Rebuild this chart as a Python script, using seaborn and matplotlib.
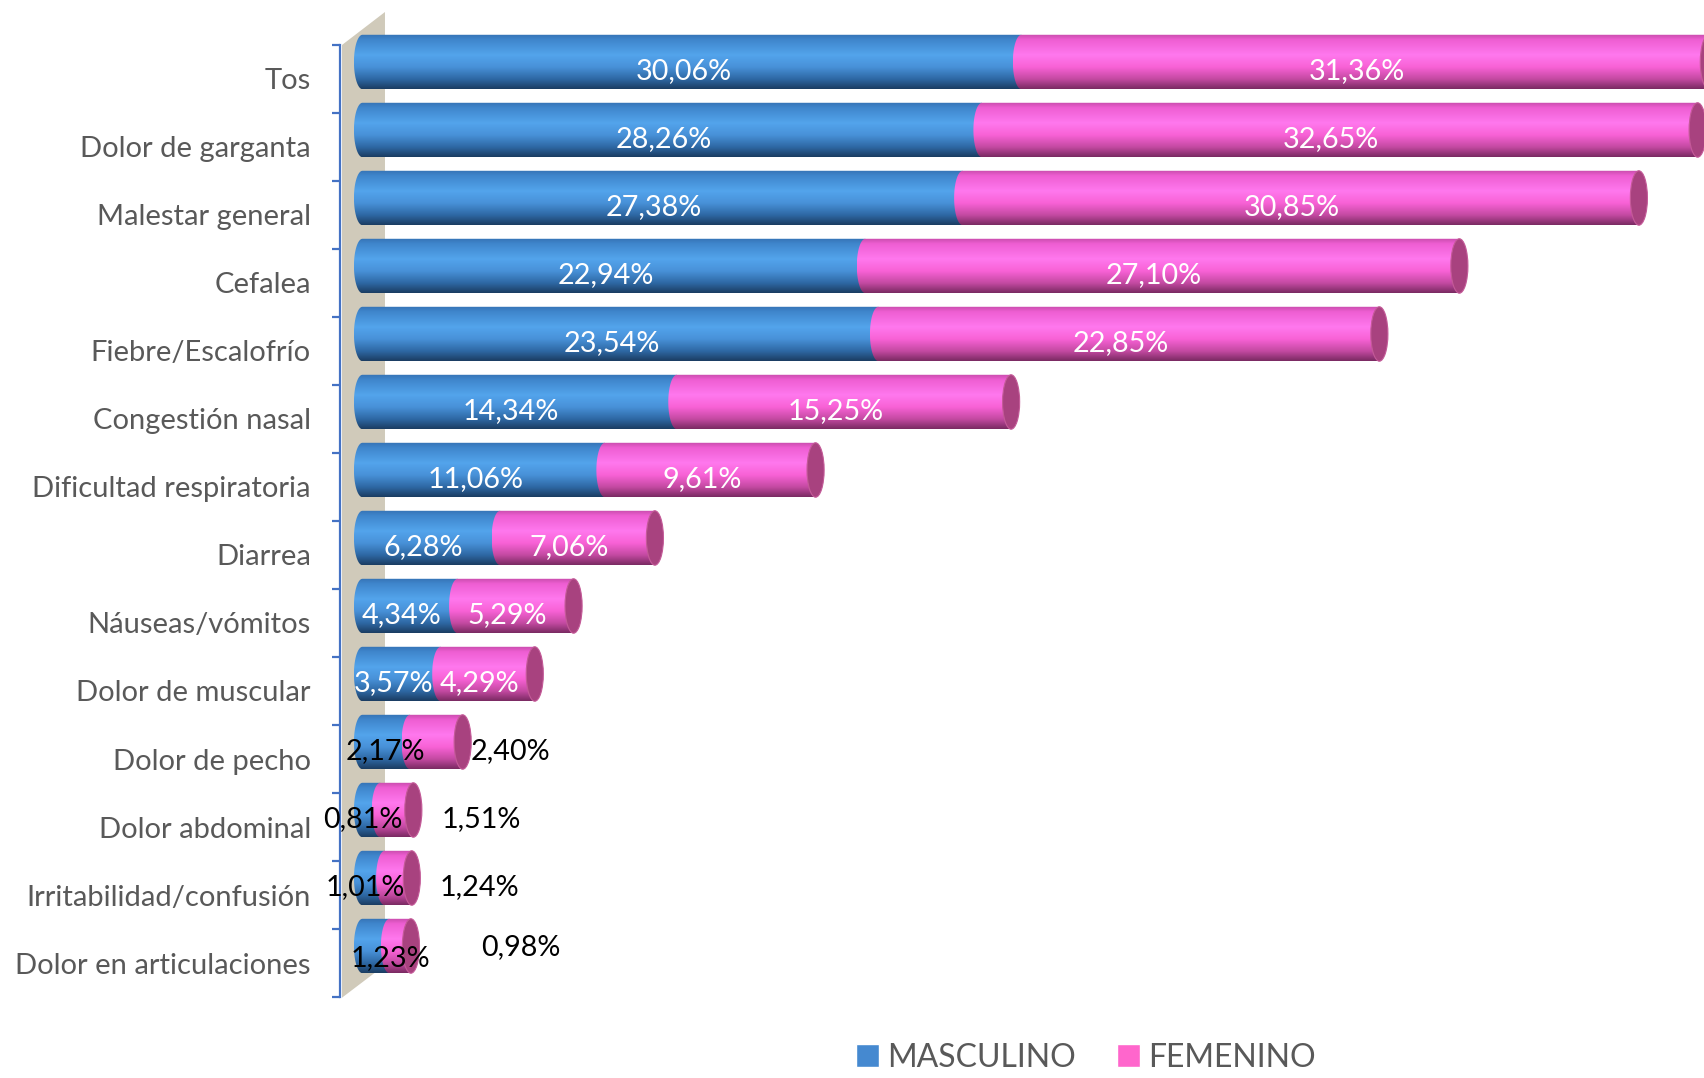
import numpy as np
import pandas as pd
import seaborn as sns
import matplotlib.pyplot as plt
from matplotlib.path import Path
from matplotlib.patches import PathPatch, Ellipse, Polygon, Patch
from matplotlib.colors import to_rgb

sintomas = ["Tos", "Dolor de garganta", "Malestar general", "Cefalea",
            "Fiebre/Escalofrío", "Congestión nasal", "Dificultad respiratoria",
            "Diarrea", "Náuseas/vómitos", "Dolor de muscular", "Dolor de pecho",
            "Dolor abdominal", "Irritabilidad/confusión", "Dolor en articulaciones"]
masculino = [30.06, 28.26, 27.38, 22.94, 23.54, 14.34, 11.06, 6.28, 4.34, 3.57,
             2.17, 0.81, 1.01, 1.23]
femenino = [31.36, 32.65, 30.85, 27.10, 22.85, 15.25, 9.61, 7.06, 5.29, 4.29,
            2.40, 1.51, 1.24, 0.98]
series = ["MASCULINO", "FEMENINO"]

df = pd.DataFrame({"sintoma": sintomas, "masculino": masculino, "femenino": femenino})
df["total"] = df["masculino"] + df["femenino"]

# colours / shading profiles (top -> bottom of the cylinder)
BLUE = "#4589D0"
PINK = "#FF66CC"
CAP = "#A8427F"
GRAY = "#595959"
AXBLUE = "#4472C4"
WALL = "#D0CABA"
blue_prof = [(0.0, "#3573B5"), (0.1, "#3F86CC"), (0.38, "#53A4EC"), (0.6, "#4891D8"),
             (0.82, "#2E68A4"), (1.0, "#1B3D62")]
pink_prof = [(0.0, "#C84CAC"), (0.1, "#EE5ED2"), (0.38, "#FF78EE"), (0.6, "#F862D6"),
             (0.82, "#C44AA2"), (1.0, "#7A2A62")]

sns.set_style("white")
plt.rcParams["font.family"] = ["Lato", "DejaVu Sans"]

W, H = 1704, 1078
fig = plt.figure(figsize=(W / 100, H / 100), dpi=100)
ax = fig.add_axes([340 / W, 1 - 1000 / H, 1 - 340 / W, (1000 - 12) / H])

sns.barplot(data=df, x="total", y="sintoma", color=PINK, width=0.8, ax=ax)
sns.barplot(data=df, x="masculino", y="sintoma", color=BLUE, width=0.8, ax=ax)
n = len(sintomas)
pink_bars = ax.patches[:n]
blue_bars = ax.patches[n:2 * n]

ax.set_xlim(-1.026, 61.2)
ax.set_ylim(13.794, -0.735)


def gradient(prof, npts=120):
    t = np.linspace(0, 1, npts)
    stops = [p[0] for p in prof]
    cols = np.array([to_rgb(p[1]) for p in prof])
    img = np.stack([np.interp(t, stops, cols[:, k]) for k in range(3)], axis=-1)
    return img[:, None, :]


def cylinder(cx0, cx1, y, h, a, prof, z):
    yc = y + h / 2
    b = h / 2
    th = np.linspace(np.pi / 2, 3 * np.pi / 2, 60)
    verts = list(zip(cx0 + a * np.cos(th), yc + b * np.sin(th)))
    verts += [(cx1, yc - b), (cx1, yc + b), (cx0, yc + b)]
    clip = PathPatch(Path(verts), transform=ax.transData, facecolor="none",
                     edgecolor="none")
    im = ax.imshow(gradient(prof), extent=(cx0 - a, cx1, y + h, y), origin="upper",
                   aspect="auto", zorder=z, interpolation="bilinear")
    im.set_clip_path(clip)


a = 0.39  # half width of the elliptical ends (x units)
for i in range(n):
    bp, pp = blue_bars[i], pink_bars[i]
    y, h = bp.get_y(), bp.get_height()
    bw, tw = bp.get_width(), pp.get_width()
    bp.set_visible(False)
    pp.set_visible(False)
    cylinder(0, bw, y, h, a, blue_prof, 3 + i * 0.01)
    cylinder(bw, tw, y, h, a, pink_prof, 4 + i * 0.01)
    ax.add_patch(Ellipse((tw, y + h / 2), 2 * a, h, facecolor=CAP,
                         edgecolor="#C45A98", lw=0.8, zorder=5 + i * 0.01))

# side wall of the 3D frame
ax.add_patch(Polygon([(-0.935, -0.25), (1.026, -0.735), (1.026, 13.28), (-0.935, 13.76)],
                     closed=True, facecolor=WALL, edgecolor="none", zorder=1,
                     clip_on=False))

# data labels
fmt = lambda v: f"{v:.2f}".replace(".", ",") + "%"
blue_dx = {10: 0.36, 13: 1.05}
blue_dy = {13: 0.05}
pink_out_dx = {10: 2.2, 11: 3.1, 12: 3.1, 13: 5.0}
pink_dy = {13: -0.12}
for i in range(n):
    m, f, t = masculino[i], femenino[i], masculino[i] + femenino[i]
    ax.text(m / 2 - a + blue_dx.get(i, 0), i + 0.13 + blue_dy.get(i, 0), fmt(m),
            ha="center", va="center", fontsize=20.7,
            color="white" if m >= 3 else "black", zorder=10)
    if f >= 3:
        px, pc = m + f / 2 - a, "white"
    else:
        px, pc = t + pink_out_dx.get(i, 3), "black"
    ax.text(px, i + 0.13 + pink_dy.get(i, 0), fmt(f), ha="center", va="center",
            fontsize=20.7, color=pc, zorder=10)

# axes styling
for s in ["top", "right", "bottom"]:
    ax.spines[s].set_visible(False)
ax.spines["left"].set_color(AXBLUE)
ax.spines["left"].set_linewidth(1.6)
ax.spines["left"].set_bounds(-0.25, n - 0.25)
ax.spines["left"].set_zorder(2)
ax.xaxis.set_visible(False)
ax.set_ylabel("")
ax.set_yticks(np.arange(n) + 0.25, sintomas)
ax.set_yticks(np.arange(n + 1) - 0.25, minor=True)
ax.tick_params(axis="y", which="major", length=0, pad=21, labelsize=21, labelcolor=GRAY)
ax.tick_params(axis="y", which="minor", left=True, length=6, width=1.6, color=AXBLUE)

handles = [Patch(facecolor=BLUE), Patch(facecolor=PINK)]
fig.legend(handles, series, loc="center", bbox_to_anchor=(1086 / W, 1 - 1058 / H),
           ncol=2, frameon=False, fontsize=23, labelcolor=GRAY, handlelength=0.72,
           handleheight=0.72, handletextpad=0.25, columnspacing=1.3, borderpad=0.1)

fig.savefig("out.png", dpi=100)
